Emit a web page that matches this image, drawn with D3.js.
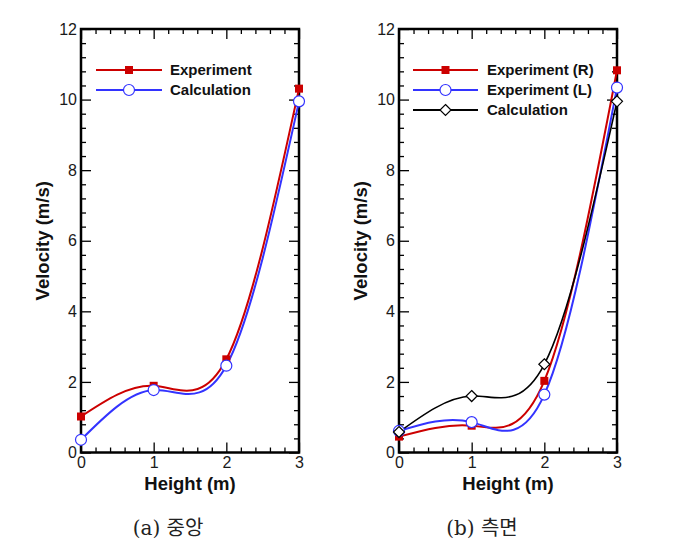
<!DOCTYPE html>
<html><head><meta charset="utf-8">
<script src="https://cdn.jsdelivr.net/npm/d3@7"></script>
<style>
body{margin:0;background:#fff;}
svg{display:block;}
</style></head>
<body>
<svg id="chart" width="679" height="549"></svg>
<script>
const heights = [0, 1, 2, 3];
// Panel (a) 중앙
const aExperiment = [1.02, 1.89, 2.64, 10.31];
const aCalculation = [0.36, 1.77, 2.46, 9.95];
// Panel (b) 측면
const bExperimentR = [0.45, 0.76, 2.03, 10.83];
const bExperimentL = [0.61, 0.86, 1.64, 10.34];
const bCalculation = [0.58, 1.60, 2.50, 9.95];

const xMajor = [0, 1, 2, 3];
const yMajor = [0, 2, 4, 6, 8, 10, 12];
const captions = ["(a) 중앙", "(b) 측면"];

const svg = d3.select("#chart");
const RED = "#cc0000", BLUE = "#3333ff", BLACK = "#000";

const panels = [
  {x0: 81, x1: 299, caption: captions[0], capX: 168,
   series: [
     {name: "Experiment", vals: aExperiment, color: RED, marker: "square"},
     {name: "Calculation", vals: aCalculation, color: BLUE, marker: "circle"}
   ],
   legend: {lx0: 96, lx1: 162, tx: 170, y0: 70}},
  {x0: 399, x1: 617, caption: captions[1], capX: 482,
   series: [
     {name: "Experiment (R)", vals: bExperimentR, color: RED, marker: "square"},
     {name: "Experiment (L)", vals: bExperimentL, color: BLUE, marker: "circle"},
     {name: "Calculation", vals: bCalculation, color: BLACK, marker: "diamond"}
   ],
   legend: {lx0: 413, lx1: 478, tx: 487, y0: 70}}
];
const yTop = 29, yBot = 452.5;

function drawMarker(g, type, cx, cy, color) {
  if (type === "square") {
    g.append("rect").attr("x", cx - 4).attr("y", cy - 4).attr("width", 8).attr("height", 8)
      .attr("fill", color);
  } else if (type === "circle") {
    g.append("circle").attr("cx", cx).attr("cy", cy).attr("r", 5.5)
      .attr("fill", "#fff").attr("stroke", color).attr("stroke-width", 1.2);
  } else {
    const s = 5.5;
    g.append("path").attr("d", `M${cx},${cy - s}L${cx + s},${cy}L${cx},${cy + s}L${cx - s},${cy}Z`)
      .attr("fill", "#fff").attr("stroke", color).attr("stroke-width", 1.2);
  }
}

panels.forEach(p => {
  const x = d3.scaleLinear().domain([0, 3]).range([p.x0, p.x1]);
  const y = d3.scaleLinear().domain([0, 12]).range([yBot, yTop]);
  const g = svg.append("g");

  const xMinor = d3.range(0, 3.001, 0.2).filter(v => Math.abs(v - Math.round(v)) > 1e-6);
  const yMinor = d3.range(0, 12.001, 0.4).filter(v => Math.abs(v / 2 - Math.round(v / 2)) > 1e-6);

  const styleAxis = sel => {
    sel.select(".domain").remove();
    sel.selectAll("line").attr("stroke", "#000").attr("stroke-width", 1.3);
  };
  const tickFont = sel => sel.selectAll("text")
    .attr("font-family", "Liberation Sans, Arial, sans-serif").attr("font-size", 16).attr("fill", "#1a1a1a");

  // bottom axis
  g.append("g").attr("transform", `translate(0,${yBot})`)
    .call(d3.axisBottom(x).tickValues(xMajor).tickSize(-10).tickPadding(4).tickFormat(d3.format("d")))
    .call(styleAxis).call(tickFont);
  g.append("g").attr("transform", `translate(0,${yBot})`)
    .call(d3.axisBottom(x).tickValues(xMinor).tickSize(-5).tickFormat(""))
    .call(styleAxis);
  // top axis
  g.append("g").attr("transform", `translate(0,${yTop})`)
    .call(d3.axisTop(x).tickValues(xMajor).tickSize(-10).tickFormat(""))
    .call(styleAxis);
  g.append("g").attr("transform", `translate(0,${yTop})`)
    .call(d3.axisTop(x).tickValues(xMinor).tickSize(-5).tickFormat(""))
    .call(styleAxis);
  // left axis
  g.append("g").attr("transform", `translate(${p.x0},0)`)
    .call(d3.axisLeft(y).tickValues(yMajor).tickSize(-10).tickPadding(4).tickFormat(d3.format("d")))
    .call(styleAxis).call(tickFont);
  g.append("g").attr("transform", `translate(${p.x0},0)`)
    .call(d3.axisLeft(y).tickValues(yMinor).tickSize(-5).tickFormat(""))
    .call(styleAxis);
  // right axis
  g.append("g").attr("transform", `translate(${p.x1},0)`)
    .call(d3.axisRight(y).tickValues(yMajor).tickSize(-10).tickFormat(""))
    .call(styleAxis);
  g.append("g").attr("transform", `translate(${p.x1},0)`)
    .call(d3.axisRight(y).tickValues(yMinor).tickSize(-5).tickFormat(""))
    .call(styleAxis);

  // frame
  g.append("rect").attr("x", p.x0).attr("y", yTop).attr("width", p.x1 - p.x0).attr("height", yBot - yTop)
    .attr("fill", "none").attr("stroke", "#000").attr("stroke-width", 2.5);

  // axis titles
  g.append("text").attr("x", (p.x0 + p.x1) / 2).attr("y", 490).attr("text-anchor", "middle")
    .attr("font-family", "Liberation Sans, Arial, sans-serif").attr("font-weight", "bold")
    .attr("font-size", 18.5).attr("fill", "#111").text("Height (m)");
  g.append("text").attr("transform", `translate(${p.x0 - 32},${(yTop + yBot) / 2}) rotate(-90)`)
    .attr("text-anchor", "middle")
    .attr("font-family", "Liberation Sans, Arial, sans-serif").attr("font-weight", "bold")
    .attr("font-size", 18.5).attr("fill", "#111").text("Velocity (m/s)");

  // curves
  const line = d3.line().x((d, i) => x(heights[i])).y(d => y(d)).curve(d3.curveNatural);
  p.series.forEach(s => {
    g.append("path").datum(s.vals).attr("d", line).attr("fill", "none")
      .attr("stroke", s.color).attr("stroke-width", s.color === BLACK ? 1.6 : 2);
  });
  p.series.forEach(s => {
    s.vals.forEach((v, i) => drawMarker(g, s.marker, x(heights[i]), y(v), s.color));
  });

  // legend
  p.series.forEach((s, i) => {
    const ly = p.legend.y0 + i * 20;
    g.append("line").attr("x1", p.legend.lx0).attr("x2", p.legend.lx1).attr("y1", ly).attr("y2", ly)
      .attr("stroke", s.color).attr("stroke-width", 2);
    drawMarker(g, s.marker, (p.legend.lx0 + p.legend.lx1) / 2, ly, s.color);
    g.append("text").attr("x", p.legend.tx).attr("y", ly + 5)
      .attr("font-family", "Liberation Sans, Arial, sans-serif").attr("font-weight", "bold")
      .attr("font-size", 15).attr("fill", "#111").text(s.name);
  });

  // caption
  g.append("text").attr("x", p.capX).attr("y", 535).attr("text-anchor", "middle")
    .attr("font-family", "DejaVu Serif, Liberation Serif, Noto Sans CJK KR, serif")
    .attr("font-size", 20).attr("fill", "#222").text(p.caption);
});
</script>
</body></html>
